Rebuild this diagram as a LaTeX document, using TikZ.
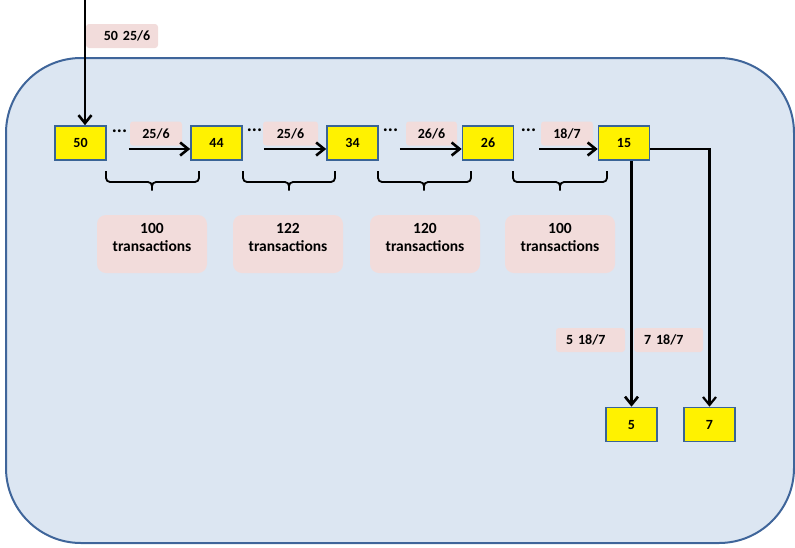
\documentclass[tikz,border=0pt]{standalone}
\usepackage{fontspec}
\setmainfont{Carlito}
\usetikzlibrary{arrows.meta}
\definecolor{panel}{HTML}{DCE6F2}
\definecolor{panelline}{HTML}{3F659A}
\definecolor{tagpink}{HTML}{F2DCDB}
\definecolor{boxline}{HTML}{3A6496}
\tikzset{
  blk/.style={draw=boxline, line width=1.6pt, fill=yellow, minimum width=51pt, minimum height=34pt, inner sep=0pt},
  tag/.style={fill=tagpink, rounded corners=3pt, minimum height=24pt, inner sep=0pt},
  txn/.style={fill=tagpink, rounded corners=9pt, minimum width=110pt, minimum height=58pt, inner sep=0pt},
  dots/.style={anchor=base, font=\fontsize{19}{19}\selectfont\bfseries},
  arr/.style={-{Straight Barb[length=8pt, width=13pt]}, line width=2.6pt},
  brc/.style={line width=1.8pt, rounded corners=4pt}
}
\begin{document}
\begin{tikzpicture}[x=1pt, y=-1pt, every node/.style={font=\fontsize{14}{18}\selectfont\bfseries}]
  \useasboundingbox (0,0) rectangle (795,547);
  \draw[panelline, fill=panel, line width=2pt, rounded corners=75pt] (6,58) rectangle (794,543);
  % chain of blocks
  \node[blk] (b50) at (80.5,143) {50};
  \node[blk] (b44) at (216.5,143) {44};
  \node[blk] (b34) at (352.5,143) {34};
  \node[blk] (b26) at (488,143) {26};
  \node[blk] (b15) at (624,143) {15};
  \node[blk] (b5) at (631.5,424.5) {5};
  \node[blk] (b7) at (709.5,424.5) {7};
  % incoming
  \coordinate (in) at (85,0);
  \node[tag, minimum width=72pt] (t0) at (122,36) {\hspace{10pt}50\hspace{5pt}25/6};
  \draw[arr] (in) -- (in |- b50.north);
  % gaps
  \node[dots] (d1) at (119.5,132) {...};
  \node[dots] (d2) at (254.5,131) {...};
  \node[dots] (d3) at (390.5,131) {...};
  \node[dots] (d4) at (528.5,131) {...};
  \node[tag, minimum width=52pt] (t1) at (156,133.5) {25/6};
  \node[tag, minimum width=55pt] (t2) at (290.5,133.5) {25/6};
  \node[tag, minimum width=51pt] (t3) at (431.5,133.5) {26/6};
  \node[tag, minimum width=52pt] (t4) at (567,133.5) {18/7};
  \draw[arr] ([xshift=22pt, yshift=-6pt]b50.east) -- ([yshift=-6pt]b44.west);
  \draw[arr] ([xshift=21pt, yshift=-6pt]b44.east) -- ([yshift=-6pt]b34.west);
  \draw[arr] ([xshift=21pt, yshift=-6pt]b34.east) -- ([yshift=-6pt]b26.west);
  \draw[arr] ([xshift=25pt, yshift=-6pt]b26.east) -- ([yshift=-6pt]b15.west);
  % braces and counts
  \draw[brc] (106,171) -- (106,182) -- (152,182) -- (152,193) -- (152,182) -- (199,182) -- (199,171);
  \draw[brc] (243,171) -- (243,182) -- (289,182) -- (289,193) -- (289,182) -- (335,182) -- (335,171);
  \draw[brc] (378,171) -- (378,182) -- (424,182) -- (424,193) -- (424,182) -- (471,182) -- (471,171);
  \draw[brc] (513,171) -- (513,182) -- (560,182) -- (560,193) -- (560,182) -- (607,182) -- (607,171);
  \node[txn, label={[anchor=north, align=center, yshift=-5pt, font=\fontsize{15.5}{18}\selectfont\bfseries]north:100\\transactions}] (n1) at (152,244) {};
  \node[txn, label={[anchor=north, align=center, yshift=-5pt, font=\fontsize{15.5}{18}\selectfont\bfseries]north:122\\transactions}] (n2) at (288,244) {};
  \node[txn, label={[anchor=north, align=center, yshift=-5pt, font=\fontsize{15.5}{18}\selectfont\bfseries]north:120\\transactions}] (n3) at (425,244) {};
  \node[txn, label={[anchor=north, align=center, yshift=-5pt, font=\fontsize{15.5}{18}\selectfont\bfseries]north:100\\transactions}] (n4) at (560,244) {};
  % split
  \node[tag, inner xsep=10pt, text width=49pt, align=left] (t5) at (590.5,340) {5\hspace{5pt}18/7};
  \node[tag, inner xsep=10pt, text width=49pt, align=left] (t7) at (668.5,340) {7\hspace{5pt}18/7};
  \draw[arr] (b15.south -| b5.north) -- (b5.north);
  \draw[arr, line width=2.2pt] ([yshift=-6pt]b15.east) -| (b7.north);
\end{tikzpicture}
\end{document}
